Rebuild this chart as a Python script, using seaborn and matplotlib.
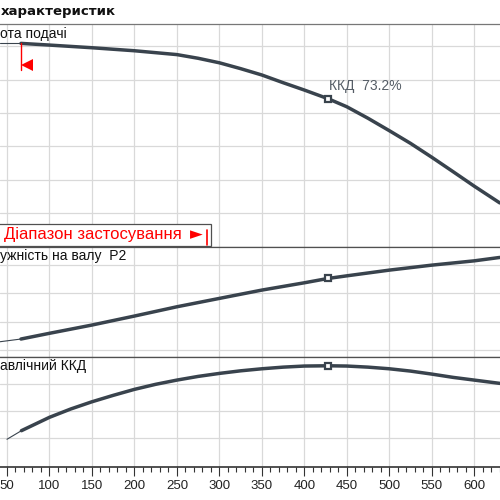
import numpy as np
import pandas as pd
import matplotlib
matplotlib.use("Agg")
import matplotlib.pyplot as plt
from matplotlib.patches import Rectangle
from matplotlib.lines import Line2D
import seaborn as sns

# ---- values (Q in m3/h) ----
q_thin_head = [41.8, 66.5]
head_thin = [12.16, 12.16]
q_head = [66.5, 100, 150, 200, 250, 275, 300, 325, 350, 375, 400, 428, 450, 475,
          500, 525, 550, 575, 600, 630]
head = [12.16, 12.06, 11.90, 11.72, 11.49, 11.27, 11.00, 10.65, 10.27, 9.81, 9.37, 8.85,
        8.37, 7.68, 6.94, 6.18, 5.35, 4.49, 3.62, 2.62]

q_thin_power = [41.8, 66.5]
power_thin = [1.146, 1.194]
q_power = [66.5, 100, 150, 200, 250, 300, 350, 400, 428, 450, 500, 550, 600, 630]
power = [1.194, 1.295, 1.441, 1.600, 1.764, 1.912, 2.059, 2.188, 2.265, 2.311, 2.412,
         2.500, 2.576, 2.636]

q_thin_eff = [50, 67]
eff_thin = [19.3, 25.6]
q_eff = [67, 100, 125, 150, 175, 200, 225, 250, 275, 300, 325, 350, 375, 400, 428,
         450, 475, 500, 525, 550, 575, 600, 630]
eff = [25.6, 35.4, 41.5, 46.8, 51.5, 55.9, 59.6, 62.7, 65.4, 67.6, 69.5, 71.0, 72.2,
       73.0, 73.2, 73.0, 72.2, 71.0, 69.3, 67.1, 64.7, 62.7, 60.3]

q_bep = 428
head_bep = 8.85
power_bep = 2.265
eff_bep = 73.2
range_start = 66.5

x_ticks = list(range(50, 651, 50))

sns.set_theme(style="whitegrid")
plt.rcParams['font.family'] = ['Liberation Sans', 'DejaVu Sans']

CURVE = '#39434d'
GRID = '#d9d9d9'
FRAME = '#505050'

fig = plt.figure(figsize=(5, 5), dpi=100)
fig.patch.set_facecolor('white')


def px(x, y):
    # pixel position (from top-left) -> figure fraction
    return x / 500, 1 - y / 500


ax_h = fig.add_axes([0, 1 - 246.7 / 500, 1, (246.7 - 24) / 500])
ax_p = fig.add_axes([0, 1 - 356.5 / 500, 1, (356.5 - 246.7) / 500])
ax_e = fig.add_axes([0, 1 - 466.7 / 500, 1, (466.7 - 356.5) / 500])

# head curve
sns.lineplot(x=q_thin_head, y=head_thin, ax=ax_h, color=CURVE, lw=0.8)
sns.lineplot(x=q_head, y=head, ax=ax_h, color=CURVE, lw=2.5)
ax_h.plot([q_bep], [head_bep], marker='s', ms=5, mfc='white', mec=CURVE, mew=1.6, zorder=5)
ax_h.text(q_bep + 0.5, head_bep + 0.55, 'ККД  ' + f'{eff_bep}%', fontsize=10,
          color='#555d66', ha='left', va='baseline')
# start of the operating range
ax_h.plot([range_start, range_start], [head_thin[1], 10.57], color='red', lw=1)
ax_h.plot([range_start + 7.3], [10.87], marker='<', color='red', ms=8, mew=0)

# power curve
sns.lineplot(x=q_thin_power, y=power_thin, ax=ax_p, color=CURVE, lw=0.8)
sns.lineplot(x=q_power, y=power, ax=ax_p, color=CURVE, lw=2.5)
ax_p.plot([q_bep], [power_bep], marker='s', ms=5, mfc='white', mec=CURVE, mew=1.6, zorder=5)

# efficiency curve
sns.lineplot(x=q_thin_eff, y=eff_thin, ax=ax_e, color=CURVE, lw=0.8)
sns.lineplot(x=q_eff, y=eff, ax=ax_e, color=CURVE, lw=2.5)
ax_e.plot([q_bep], [eff_bep], marker='s', ms=5, mfc='white', mec=CURVE, mew=1.6, zorder=5)

ax_h.set_ylim(0, 13.32)
ax_h.set_yticks([2, 4, 6, 8, 10, 12])
ax_p.set_ylim(0.885, 2.826)
ax_p.set_yticks([1.0, 1.5, 2.0, 2.5])
ax_e.set_ylim(-0.8, 79.9)
ax_e.set_yticks([20, 40, 60, 80])

for ax in (ax_h, ax_p, ax_e):
    ax.set_facecolor('white')
    ax.set_xticks(x_ticks)
    ax.set_xlim(41.8, 630.3)
    ax.grid(True, color=GRID, lw=0.9)
    ax.tick_params(axis='y', length=0, labelleft=False)
    ax.set_xlabel('')
    ax.set_ylabel('')
    for s in ('left', 'right'):
        ax.spines[s].set_visible(False)
    for s in ('top', 'bottom'):
        ax.spines[s].set_color(FRAME)
        ax.spines[s].set_linewidth(0.9)

for ax in (ax_h, ax_p):
    ax.tick_params(axis='x', length=0, labelbottom=False)
ax_h.spines['top'].set_color('#777777')

ax_e.set_xticks(range(40, 640, 10), minor=True)
ax_e.tick_params(axis='x', which='major', direction='out', length=6.5, width=0.8,
                 color='#333333', pad=3, labelsize=9.5, labelcolor='#222222', bottom=True)
ax_e.tick_params(axis='x', which='minor', direction='out', length=3.6, width=0.8,
                 color='#333333', bottom=True)
ax_e.spines['bottom'].set_color('#333333')
ax_e.spines['bottom'].set_linewidth(1.2)
ax_e.set_xticklabels([str(t) for t in x_ticks])
ax_e.set_xlim(41.8, 630.3)

# titles and panel labels (the picture is a crop: only these parts are visible)
fig.text(*px(1, 12), 'характеристик', ha='left', va='center', fontsize=9.5,
         fontweight='bold', family=['DejaVu Sans'], color='#111111')
fig.text(*px(0.5, 38.3), 'ота подачі', ha='left', va='baseline', fontsize=10,
         color='#111111')
fig.text(*px(0.5, 260), 'ужність на валу  P2', ha='left', va='baseline', fontsize=10,
         color='#111111')
fig.text(*px(0.5, 370), 'авлічний ККД', ha='left', va='baseline', fontsize=10,
         color='#111111')

# operating range box
x0, y0 = px(-2, 245.7)
x1, y1 = px(211, 224.3)
fig.add_artist(Rectangle((x0, y0), x1 - x0, y1 - y0, transform=fig.transFigure,
                         facecolor='white', edgecolor=FRAME, lw=0.9, zorder=5))
fig.text(*px(4, 239.5), 'Діапазон застосування', ha='left', va='baseline', fontsize=12,
         color='red', zorder=6)
fig.text(*px(190, 239.5), '►', ha='left', va='baseline', fontsize=12,
         family=['DejaVu Sans'], color='red', zorder=6)
bx, by0 = px(206.7, 245)
_, by1 = px(206.7, 230)
fig.add_artist(Line2D([bx, bx], [by0, by1], transform=fig.transFigure, color='red',
                      lw=1.2, zorder=6))

fig.savefig('out.png', dpi=100, facecolor='white')
